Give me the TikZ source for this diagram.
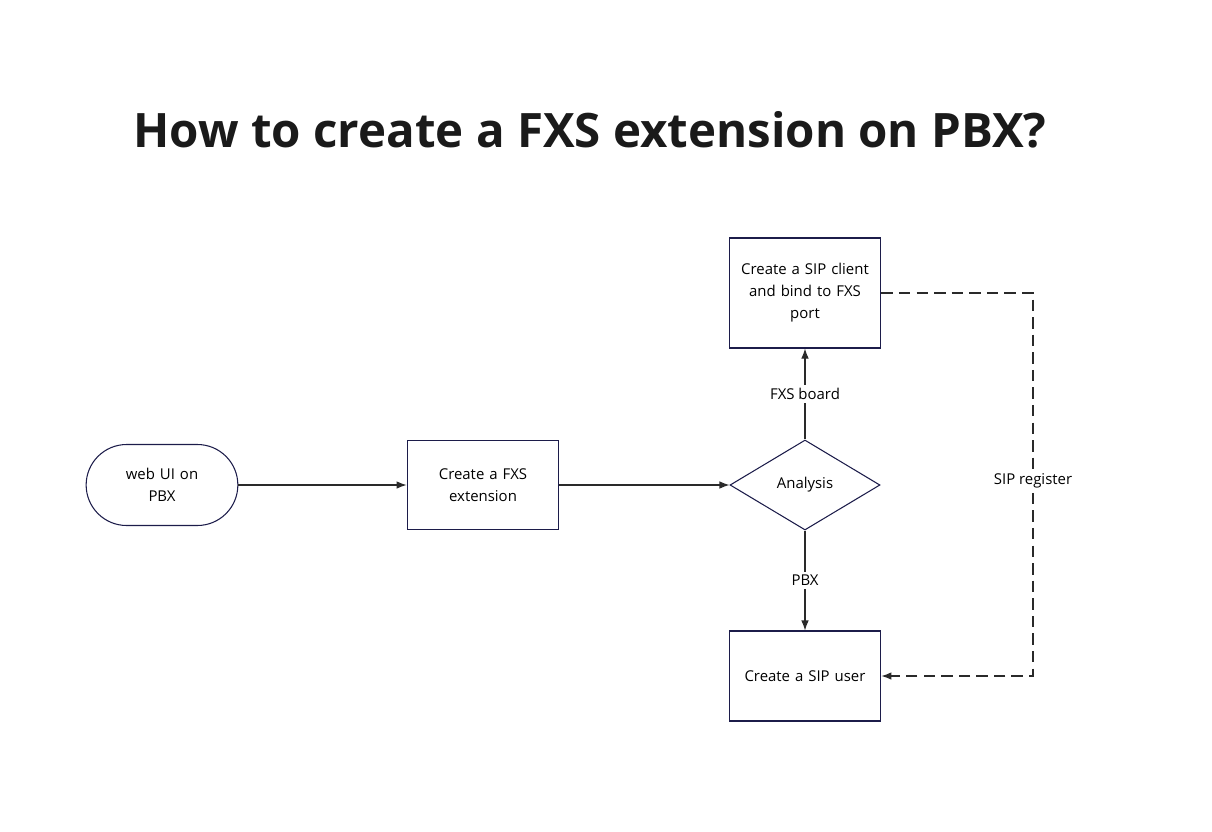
\documentclass[tikz,border=0pt]{standalone}
\usepackage{fontspec}
\setmainfont{Open Sans}
\usetikzlibrary{shapes.geometric,arrows.meta}
\definecolor{boxline}{HTML}{1C1C4A}
\definecolor{flowline}{HTML}{2A2A2A}
\definecolor{titletext}{HTML}{1A1A1A}
\tikzset{
  procbox/.style={draw=boxline, line width=0.6pt, minimum width=3cm, align=center, font=\fontsize{8.5}{12.5}\selectfont, text width=2.8cm},
  flowarrow/.style={draw=flowline, line width=0.6pt, -{Latex[length=2mm,width=1.5mm]}},
  edgelbl/.style={fill=white, font=\fontsize{8.5}{12.5}\selectfont, inner sep=2pt}
}
\begin{document}
\begin{tikzpicture}
  \useasboundingbox (0,0) rectangle (24.24,-16.62);

  % ---- title ----
  \node[font=\fontsize{27}{31}\bfseries, text=titletext] (title) at (11.80,-2.60) {How to create a FXS extension on PBX?};

  % ---- steps ----
  \node[procbox, rounded corners=0.81cm, minimum height=1.62cm] (web) at (3.24,-9.70) {web UI on\\PBX};
  \node[procbox, minimum height=1.78cm] (ext) at (9.66,-9.70) {Create a FXS\\extension};
  \node[draw=boxline, line width=0.6pt, diamond, inner sep=0pt, minimum width=3cm, minimum height=1.8cm,
        font=\fontsize{8.5}{12.5}\selectfont] (ana) at (16.10,-9.70) {Analysis};
  \node[procbox, minimum height=2.2cm] (client) at (16.10,-5.86) {Create a SIP client\\and bind to FXS\\port};
  \node[procbox, minimum height=1.8cm] (user) at (16.10,-13.52) {Create a SIP user};

  % ---- connectors ----
  \draw[flowarrow] (web) -- (ext);
  \draw[flowarrow] (ext) -- (ana);
  \draw[flowarrow] (ana) -- node[edgelbl] {FXS board} (client);
  \draw[flowarrow] (ana) -- node[edgelbl] {PBX} (user);

  % ---- SIP register (dashed) ----
  \coordinate (reg1) at (20.66,-5.86);
  \coordinate (reg2) at (20.66,-13.52);
  \draw[flowarrow, dash pattern=on 6.5pt off 3.5pt] (client) -- (reg1) -- node[edgelbl, pos=0.49] {SIP register} (reg2) -- (user);
\end{tikzpicture}
\end{document}
